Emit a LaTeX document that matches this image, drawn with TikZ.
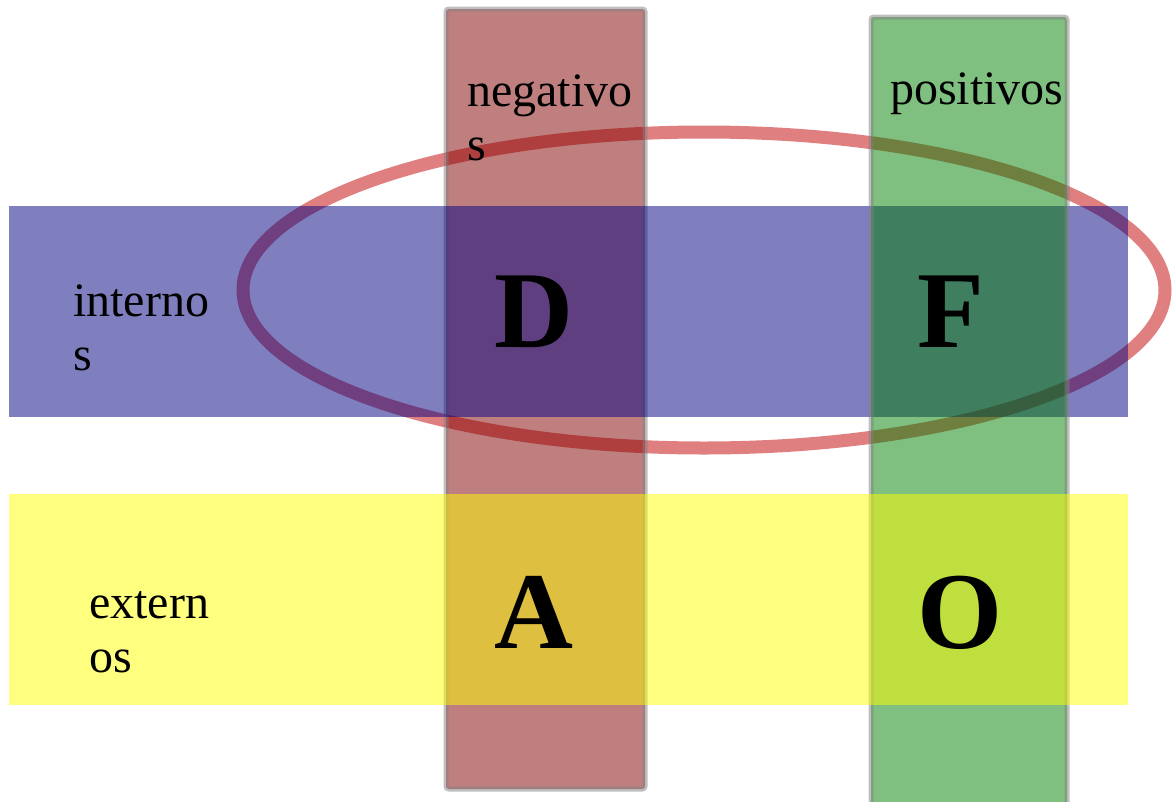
\documentclass[tikz,border=0pt]{standalone}
\usepackage{fontspec}
\setmainfont{Liberation Serif}
\usetikzlibrary{positioning}
\definecolor{ringred}{RGB}{192,0,0}
\definecolor{negred}{RGB}{128,0,0}
\definecolor{posgreen}{RGB}{0,128,0}
\definecolor{intblue}{RGB}{0,0,128}
\definecolor{extyellow}{RGB}{255,255,0}

\begin{document}
\begin{tikzpicture}
[
x=0.75pt, y=-0.75pt,
ring/.style={draw=ringred, draw opacity=0.5, line width=9.75pt},
column/.style={draw=black!50, draw opacity=0.5, line width=3.75pt, rounded corners=2pt, fill opacity=0.5},
band/.style={fill opacity=0.5},
label/.style={anchor=base west, align=left, inner sep=0pt, font=\fontsize{36}{40.5}\selectfont},
letter/.style={anchor=base, inner sep=0pt, font=\fontsize{82}{90}\selectfont\bfseries},
]
\useasboundingbox (0,0) rectangle (1172,801);
\draw[ring] (704,290) ellipse [x radius=461, y radius=158];
\filldraw[column, fill=negred] (446,9) rectangle (645,789);
\fill[band, fill=intblue] (9,206) rectangle (1128,417);
\filldraw[column, fill=posgreen] (871,17) rectangle (1067,808);
\fill[band, fill=extyellow] (9,494) rectangle (1128,705);
% base of a two-line label is its last line
\node[label] (neg) at (467,160) {negativo\\s};
\node[label] (pos) at (890,104) {positivos};
\node[label] (int) at (73,370) {interno\\s};
\node[label] (ext) at (89,672) {extern\\os};
\node[letter] (D) at (534,347) {D};
\node[letter] (F) at (951,347) {F};
\node[letter] (A) at (534,648) {A};
\node[letter] (O) at (960,648) {O};
\end{tikzpicture}
\end{document}
